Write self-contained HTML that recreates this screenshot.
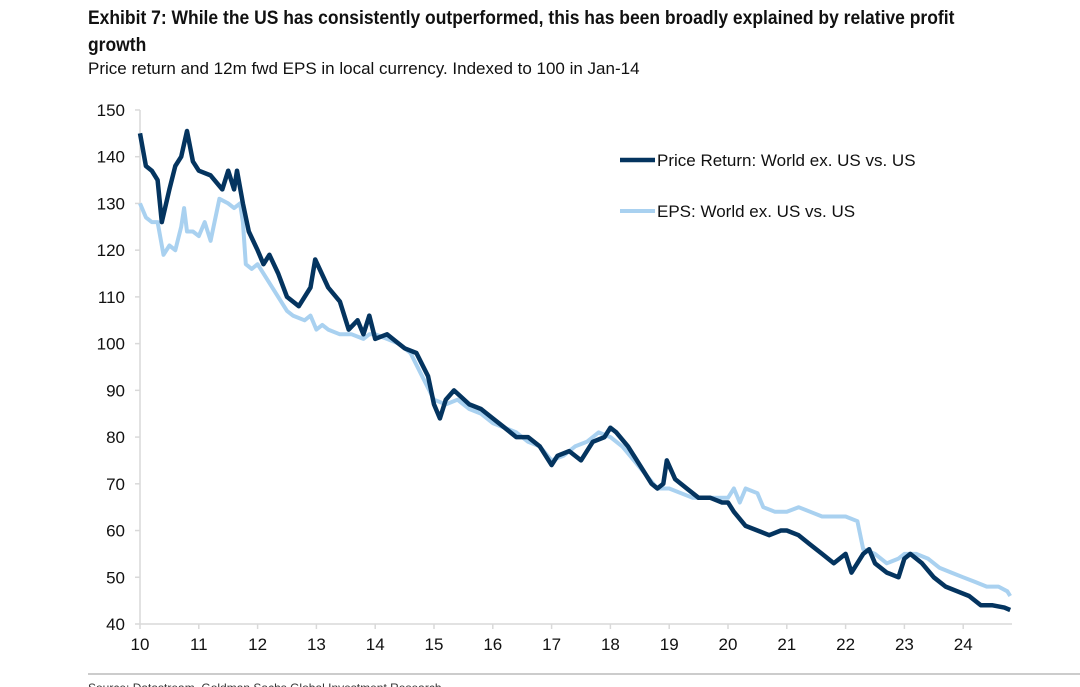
<!DOCTYPE html>
<html><head><meta charset="utf-8"><style>
body{margin:0;width:1080px;height:687px;background:#fff;overflow:hidden;font-family:"Liberation Sans",sans-serif;position:relative}
.t{position:absolute;left:88px;font-family:"Liberation Sans Narrow","Liberation Sans",sans-serif;color:#111;transform-origin:0 0;white-space:nowrap}
</style></head><body>
<div class="t" style="top:5px;font-weight:bold;font-size:19px;line-height:27px;transform:scaleX(0.92)">Exhibit 7: While the US has consistently outperformed, this has been broadly explained by relative profit<br>growth</div>
<div class="t" style="top:59px;font-size:17px">Price return and 12m fwd EPS in local currency. Indexed to 100 in Jan-14</div>
<svg id="c" width="1080" height="687" style="position:absolute;left:0;top:0"></svg>
<script>
const priceDates=[2010.0,2010.1,2010.2,2010.3,2010.37,2010.5,2010.6,2010.7,2010.8,2010.9,2011.0,2011.2,2011.4,2011.5,2011.6,2011.65,2011.75,2011.85,2012.0,2012.1,2012.2,2012.35,2012.5,2012.7,2012.9,2012.98,2013.2,2013.4,2013.55,2013.7,2013.8,2013.9,2014.0,2014.2,2014.4,2014.5,2014.7,2014.9,2015.0,2015.1,2015.2,2015.34,2015.6,2015.8,2016.0,2016.2,2016.4,2016.6,2016.8,2017.0,2017.1,2017.3,2017.5,2017.7,2017.9,2018.0,2018.1,2018.3,2018.5,2018.7,2018.8,2018.9,2018.96,2019.1,2019.3,2019.5,2019.7,2019.9,2020.0,2020.1,2020.3,2020.5,2020.7,2020.9,2021.0,2021.2,2021.4,2021.6,2021.8,2022.0,2022.1,2022.3,2022.4,2022.5,2022.7,2022.9,2023.0,2023.1,2023.3,2023.5,2023.7,2023.9,2024.1,2024.3,2024.5,2024.7,2024.8];
const priceValues=[145,138,137,135,126,133,138,140,145.5,139,137,136,133,137,133,137,130,124,120,117,119,115,110,108,112,118,112,109,103,105,102,106,101,102,100,99,98,93,87,84,88,90,87,86,84,82,80,80,78,74,76,77,75,79,80,82,81,78,74,70,69,70,75,71,69,67,67,66,66,64,61,60,59,60,60,59,57,55,53,55,51,55,56,53,51,50,54,55,53,50,48,47,46,44,44,43.5,43];
const epsDates=[2010.0,2010.1,2010.2,2010.3,2010.4,2010.5,2010.6,2010.7,2010.75,2010.8,2010.9,2011.0,2011.1,2011.2,2011.35,2011.5,2011.6,2011.7,2011.75,2011.8,2011.9,2012.0,2012.2,2012.35,2012.5,2012.6,2012.8,2012.9,2013.0,2013.1,2013.2,2013.4,2013.6,2013.8,2013.9,2014.0,2014.2,2014.4,2014.6,2014.8,2015.0,2015.2,2015.4,2015.6,2015.8,2016.0,2016.2,2016.4,2016.6,2016.8,2017.0,2017.2,2017.4,2017.6,2017.8,2018.0,2018.2,2018.4,2018.6,2018.8,2019.0,2019.2,2019.4,2019.6,2019.8,2020.0,2020.1,2020.2,2020.3,2020.5,2020.6,2020.8,2021.0,2021.2,2021.4,2021.6,2021.8,2022.0,2022.2,2022.3,2022.5,2022.7,2022.9,2023.0,2023.2,2023.4,2023.6,2023.8,2024.0,2024.2,2024.4,2024.6,2024.75,2024.8];
const epsValues=[130,127,126,126,119,121,120,125,129,124,124,123,126,122,131,130,129,130,126,117,116,117,113,110,107,106,105,106,103,104,103,102,102,101,102,102,101,100,98,93,88,87,88,86,85,83,82,81,79,78,75,76,78,79,81,80,78,75,72,69,69,68,67,67,67,67,69,66,69,68,65,64,64,65,64,63,63,63,62,56,55,53,54,55,55,54,52,51,50,49,48,48,47,46];
const yTicks=[40,50,60,70,80,90,100,110,120,130,140,150];
const xTicks=[10,11,12,13,14,15,16,17,18,19,20,21,22,23,24];
const X=d=>140+(d-2010)*58.8;
const Y=v=>624-(v-40)*4.673;
const svg=document.getElementById('c');const NS='http://www.w3.org/2000/svg';
function mk(t,a,txt){const e=document.createElementNS(NS,t);for(const k in a)e.setAttribute(k,a[k]);if(txt!=null)e.textContent=txt;svg.appendChild(e);return e;}
let e;
e=mk('line',{x1:140,y1:110,x2:140,y2:624,stroke:'#d9d9d9','stroke-width':1.5});


e=mk('line',{x1:140,y1:624,x2:1012,y2:624,stroke:'#d9d9d9','stroke-width':1.5});


yTicks.forEach(v=>{
 e=mk('line',{x1:135,y1:Y(v),x2:140,y2:Y(v),stroke:'#d9d9d9','stroke-width':1.5});
 
 
 e=mk('text',{x:125,y:Y(v)+6,'text-anchor':'end','font-size':17,fill:'#111','font-family':'Liberation Sans'},v);
 
 
});
xTicks.forEach(t=>{
 const x=X(2000+t);
 e=mk('line',{x1:x,y1:624,x2:x,y2:629,stroke:'#d9d9d9','stroke-width':1.5});
 
 
 e=mk('text',{x:x,y:650,'text-anchor':'middle','font-size':17,fill:'#111','font-family':'Liberation Sans'},t);
 
 
});
function path(ds,vs){return ds.map((d,i)=>(i?'L':'M')+X(d).toFixed(1)+','+Y(vs[i]).toFixed(1)).join('');}
e=mk('path',{d:path(epsDates,epsValues),fill:'none',stroke:'#a9d1f0','stroke-width':4,'stroke-linejoin':'round'});


e=mk('path',{d:path(priceDates,priceValues),fill:'none',stroke:'#04345f','stroke-width':4.5,'stroke-linejoin':'round'});


e=mk('line',{x1:620,y1:160,x2:655,y2:160,stroke:'#04345f','stroke-width':4.5});


e=mk('text',{x:657,y:166,'font-size':17,fill:'#111','font-family':'Liberation Sans'},'Price Return: World ex. US vs. US');


e=mk('line',{x1:620,y1:211,x2:655,y2:211,stroke:'#a9d1f0','stroke-width':4});


e=mk('text',{x:657,y:217,'font-size':17,fill:'#111','font-family':'Liberation Sans'},'EPS: World ex. US vs. US');


e=mk('line',{x1:88,y1:674,x2:1080,y2:674,stroke:'#999','stroke-width':1});


e=mk('text',{x:88,y:692,'font-size':12,fill:'#333','font-family':'Liberation Sans'},'Source: Datastream, Goldman Sachs Global Investment Research');


</script>
</body></html>
